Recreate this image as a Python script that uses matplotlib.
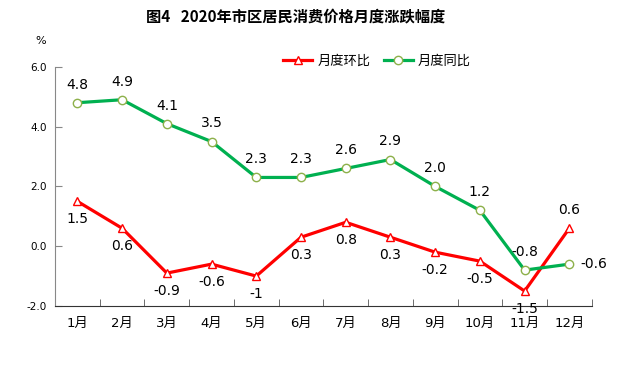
import matplotlib.pyplot as plt

plt.rcParams['font.family'] = ['Noto Sans CJK SC', 'DejaVu Sans']
NUM_FONT = ['DejaVu Sans', 'Noto Sans CJK SC']

months = ['1月', '2月', '3月', '4月', '5月', '6月', '7月', '8月', '9月', '10月', '11月', '12月']
mom = [1.5, 0.6, -0.9, -0.6, -1.0, 0.3, 0.8, 0.3, -0.2, -0.5, -1.5, 0.6]
yoy = [4.8, 4.9, 4.1, 3.5, 2.3, 2.3, 2.6, 2.9, 2.0, 1.2, -0.8, -0.6]
mom_labels = ['1.5', '0.6', '-0.9', '-0.6', '-1', '0.3', '0.8', '0.3', '-0.2', '-0.5', '-1.5', '0.6']
yoy_labels = ['4.8', '4.9', '4.1', '3.5', '2.3', '2.3', '2.6', '2.9', '2.0', '1.2', '-0.8', '-0.6']

fig = plt.figure(figsize=(6.19, 3.82), dpi=100)
ax = fig.add_axes([0.0889, 0.199, 0.867, 0.626])

x = range(len(months))
ax.plot(x, mom, color='#FF0000', lw=2.3, marker='^', ms=6, mfc='white', mec='#FF0000', mew=1, label='月度环比', zorder=3)
ax.plot(x, yoy, color='#00B050', lw=2.3, marker='o', ms=6, mfc='white', mec='#8DB04A', mew=1, label='月度同比', zorder=3)

# data labels
for i, (v, t) in enumerate(zip(yoy, yoy_labels)):
    if i == 11:
        ax.annotate(t, (i, v), xytext=(8, 0), textcoords='offset points', ha='left', va='center',
                    fontsize=10, family=NUM_FONT)
    else:
        ax.annotate(t, (i, v), xytext=(0, 8), textcoords='offset points', ha='center', va='bottom',
                    fontsize=10, family=NUM_FONT)
for i, (v, t) in enumerate(zip(mom, mom_labels)):
    if i == 11:
        ax.annotate(t, (i, v), xytext=(0, 8), textcoords='offset points', ha='center', va='bottom',
                    fontsize=10, family=NUM_FONT)
    else:
        ax.annotate(t, (i, v), xytext=(0, -8), textcoords='offset points', ha='center', va='top',
                    fontsize=10, family=NUM_FONT)

ax.set_xlim(-0.5, 11.5)
ax.set_ylim(-2, 6)
ax.set_yticks([-2, 0, 2, 4, 6])
ax.set_yticklabels(['-2.0', '0.0', '2.0', '4.0', '6.0'], fontsize=7.5, family=NUM_FONT)
ax.set_xticks(list(x))
ax.set_xticklabels(months, fontsize=9.5, family=NUM_FONT)
ax.set_xticks([i + 0.5 for i in range(-1, 12)], minor=True)
ax.tick_params(axis='x', which='major', length=0, pad=8)
ax.tick_params(axis='x', which='minor', direction='in', length=5, color='#555555')
ax.tick_params(axis='y', direction='in', length=5, color='#888888', pad=6)

for s in ['top', 'right']:
    ax.spines[s].set_visible(False)
ax.spines['left'].set_color('#888888')
ax.spines['bottom'].set_color('#333333')

ax.legend(loc='upper center', bbox_to_anchor=(0.6, 1.1), ncol=2, frameon=False,
          fontsize=9.5, handlelength=2.2, columnspacing=1.0, handletextpad=0.4)

fig.text(0.065, 0.885, '%', fontsize=8, ha='center', family=NUM_FONT)
fig.text(0.477, 0.945, '图4   2020年市区居民消费价格月度涨跌幅度', ha='center', fontsize=11, fontweight='bold')

fig.savefig('out.png', dpi=100)
